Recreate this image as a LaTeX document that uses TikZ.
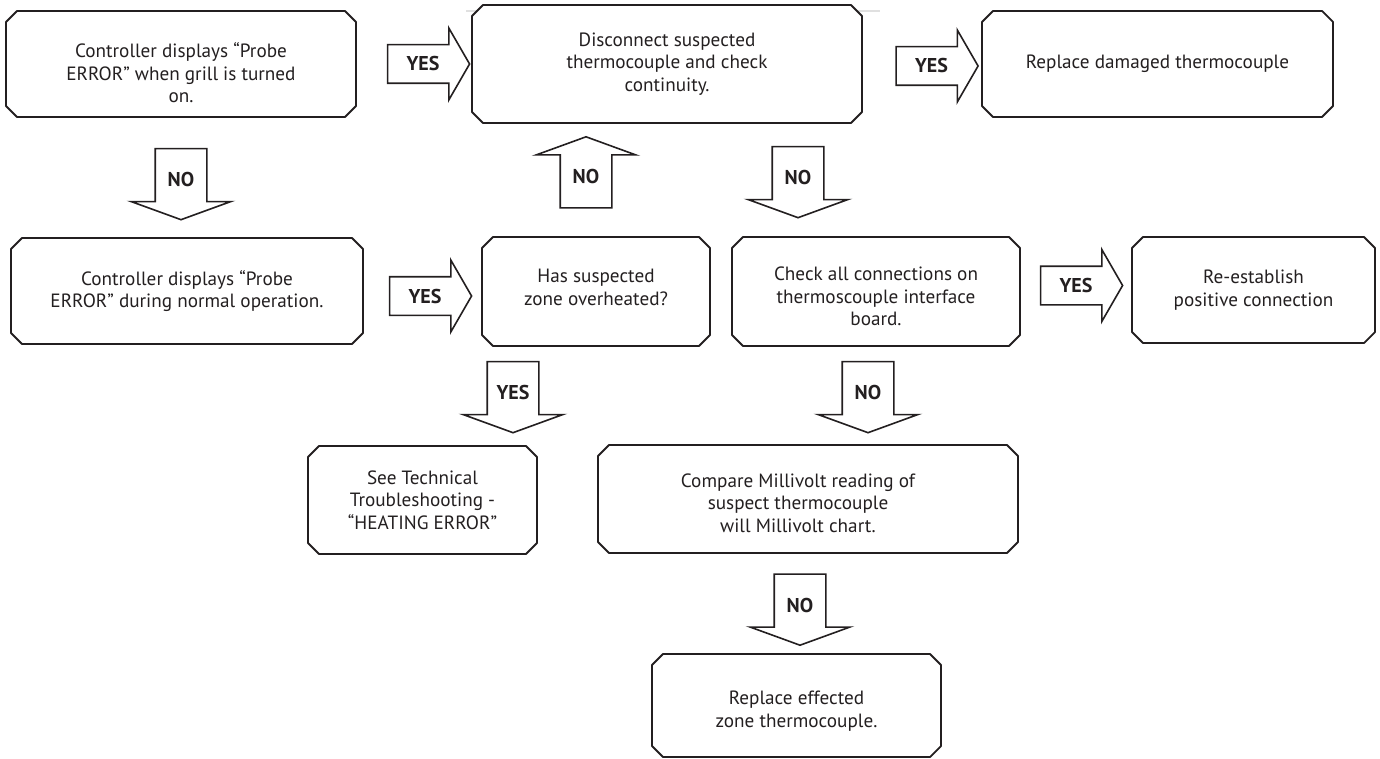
\documentclass[tikz,border=0pt]{standalone}
\usepackage{fontspec}
\setmainfont{PT Sans}
\usetikzlibrary{calc,shapes.arrows}
\definecolor{ink}{HTML}{231F20}
\tikzset{
 box/.style={rectangle,inner sep=0pt,outer sep=0pt,align=center,text=ink,
   font=\fontsize{9.6}{11.2}\selectfont,
   append after command={\pgfextra{\let\bx=\tikzlastnode
    \draw[ink,line width=0.9pt,line join=round]
     ($(\bx.north west)+(5.5pt,0pt)$) -- ($(\bx.north east)+(-5.5pt,0pt)$)
     -- ($(\bx.north east)+(0pt,-5.5pt)$) -- ($(\bx.south east)+(0pt,5.5pt)$)
     -- ($(\bx.south east)+(-5.5pt,0pt)$) -- ($(\bx.south west)+(5.5pt,0pt)$)
     -- ($(\bx.south west)+(0pt,5.5pt)$) -- ($(\bx.north west)+(0pt,-5.5pt)$) -- cycle;}}},
 lbl/.style={align=center,text=ink,font=\fontsize{9.6}{11.2}\selectfont},
 harr/.style={single arrow,draw=ink,fill=white,line width=0.8pt,text=ink,font=\bfseries\fontsize{10}{11}\selectfont,
   minimum height=41pt,single arrow head extend=8.25pt,single arrow tip angle=120,
   text height=7pt,text depth=0pt,inner ysep=5.75pt,inner xsep=2pt},
 varr/.style={single arrow,draw=ink,fill=white,line width=0.8pt,text=ink,font=\bfseries\fontsize{10}{11}\selectfont,
   minimum height=35.5pt,single arrow head extend=12pt,single arrow tip angle=140,
   text width=21pt,align=center,inner xsep=2pt,shape border rotate=#1},
 varr/.default=270}

\begin{document}
\begin{tikzpicture}[x=0.5pt,y=-0.5pt]
 \useasboundingbox (0,0) rectangle (1380,759);
 \draw[black!12,line width=1pt] (466,11)--(477,11) (857,11)--(880,11);
 % top row
 \node[box,minimum width=175pt,minimum height=53pt,
   label={[lbl,yshift=-4.5pt]center:{Controller displays “Probe\\ERROR” when grill is turned\\on.}}]
   (probeon) at (181,64) {};
 \node[box,minimum width=195pt,minimum height=59pt] (disconnect) at (667,64)
   {Disconnect suspected\\thermocouple and check\\continuity.};
 \node[box,minimum width=175.5pt,minimum height=53pt] (replacetc) at (1157.5,64)
   {Replace damaged thermocouple};
 \node[harr] (yesa) at (423,64) {YES};
 \node[harr] (yesb) at (931.5,66) {YES};
 \node[varr] (noa) at (181,179.5) {NO};
 \node[varr=90] (nob) at (586,177) {NO};
 \node[varr] (noc) at (798,177.5) {NO};
 % middle row
 \node[box,minimum width=176pt,minimum height=53pt] (probeop) at (187,291)
   {Controller displays “Probe\\ERROR” during normal operation.};
 \node[box,minimum width=114pt,minimum height=54.5pt,
   label={[lbl,yshift=2pt]center:{Has suspected\\zone overheated?}}] (overheat) at (596,291.5) {};
 \node[box,minimum width=144pt,minimum height=54.5pt,
   label={[lbl,yshift=-2.5pt]center:{Check all connections on\\thermoscouple interface\\board.}}]
   (checkconn) at (876,291.5) {};
 \node[box,minimum width=121.5pt,minimum height=53pt] (reestab) at (1253.5,290)
   {Re-establish\\positive connection};
 \node[harr] (yesc) at (425,296) {YES};
 \node[harr] (yesd) at (1076,285.5) {YES};
 \node[varr] (yese) at (513,392.5) {YES};
 \node[varr] (nod) at (868,392.5) {NO};
 % bottom rows
 \node[box,minimum width=114.5pt,minimum height=54pt] (heaterr) at (422.5,500)
   {See Technical\\Troubleshooting -\\“HEATING ERROR”};
 \node[box,minimum width=210pt,minimum height=54pt,
   label={[lbl,yshift=-2pt,xshift=-5pt]center:{Compare Millivolt reading of\\suspect thermocouple\\will Millivolt chart.}}]
   (millivolt) at (808,499) {};
 \node[varr] (noe) at (800,605) {NO};
 \node[box,minimum width=144.5pt,minimum height=51.5pt,
   label={[lbl,yshift=-2.75pt]center:{Replace effected\\zone thermocouple.}}]
   (replacezone) at (796.5,705.5) {};
\end{tikzpicture}
\end{document}
